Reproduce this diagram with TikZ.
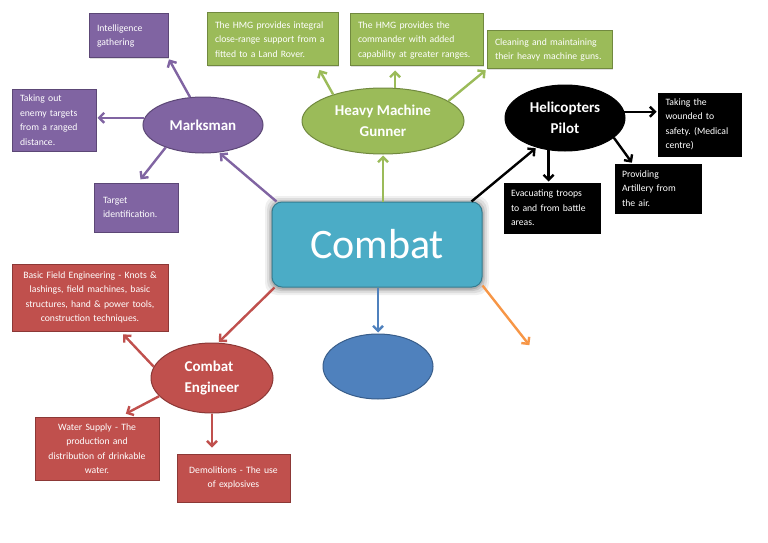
\documentclass[tikz,border=0pt]{standalone}
\usepackage{fontspec}
\setmainfont{Carlito}
\usetikzlibrary{arrows.meta,shapes.geometric,calc,shadows}
\definecolor{cteal}{HTML}{4BACC6}
\definecolor{ctealb}{HTML}{357D91}
\definecolor{cblue}{HTML}{4F81BD}
\definecolor{cblueb}{HTML}{385D8A}
\definecolor{cpurp}{HTML}{8064A2}
\definecolor{cpurpb}{HTML}{5C4776}
\definecolor{cgreen}{HTML}{9BBB59}
\definecolor{cgreenb}{HTML}{71893F}
\definecolor{cred}{HTML}{C0504D}
\definecolor{credb}{HTML}{8C3836}
\definecolor{corange}{HTML}{F79646}
\tikzset{
  conn/.style={line width=2.4pt, -{Straight Barb[length=5pt,width=10pt]}, shorten >=1pt},
  leaf/.style={draw, line width=1pt, text=white, inner sep=5pt,
    font=\frenchspacing\fontsize{9.7}{14.5}\selectfont, align=left,
    drop shadow={opacity=0.25, shadow xshift=1.2pt, shadow yshift=-1.2pt}},
  hub/.style={ellipse, draw, line width=1pt, inner sep=0pt, text=white,
    font=\bfseries\fontsize{15}{21}\selectfont, align=center},
  pleaf/.style={leaf, fill=cpurp, draw=cpurpb},
  gleaf/.style={leaf, fill=cgreen, draw=cgreenb},
  kleaf/.style={leaf, fill=black, draw=black},
  rleaf/.style={leaf, fill=cred, draw=credb, align=center},
}
\begin{document}
\begin{tikzpicture}[x=1pt,y=-1pt]
\useasboundingbox[fill=white] (0,0) rectangle (768,543);

% central box with glow
\foreach \g/\o in {7/0.06,5/0.08,3/0.10,1.5/0.12}{
  \fill[black, opacity=\o, rounded corners=12pt] (272-\g,202-\g+1) rectangle (482+\g,287+\g+1);
}
\node[draw=ctealb, fill=cteal, line width=1pt, rounded corners=10pt,
  minimum width=210pt, minimum height=85pt, text=white,
  font=\fontsize{42}{42}\selectfont] (combat) at (377,244.5) {Combat};

% hubs
\node[hub, fill=cpurp, draw=cpurpb, minimum width=120pt, minimum height=56pt] (mark) at (203,125) {Marksman};
\node[hub, fill=cgreen, draw=cgreenb, minimum width=162pt, minimum height=66pt] (hmg) at (383,121) {Heavy Machine\\Gunner};
\node[hub, fill=black, draw=black, minimum width=120pt, minimum height=66pt] (pilot) at (565,118) {Helicopters\\Pilot};
\node[hub, fill=cred, draw=credb, minimum width=122pt, minimum height=70pt, align=left] (eng) at (212,378) {Combat\\Engineer};
\node[hub, fill=cblue, draw=cblueb, minimum width=110pt, minimum height=65pt] (blue) at (378,366.5) {};
\coordinate (orangeend) at (530,346);

% purple leaves
\node[pleaf, minimum width=79pt, minimum height=44pt, text width=63pt] (intel) at (128.5,36) {Intelligence\\gathering};
\node[pleaf, minimum width=84pt, minimum height=62pt, text width=68pt] (takeout) at (54,120) {Taking out\\enemy targets\\from a ranged\\distance.};
\node[pleaf, minimum width=84pt, minimum height=49pt, text width=66pt] (target) at (136,207.5) {Target\\identification.};

% green leaves
\node[gleaf, minimum width=131pt, minimum height=53pt, text width=115pt] (hmg1) at (272.5,39.5) {The HMG provides integral\\close-range support from a\\fitted to a Land Rover.};
\node[gleaf, minimum width=133pt, minimum height=52pt, text width=117pt] (hmg2) at (416.5,40) {The HMG provides the\\commander with added\\capability at greater ranges.};
\node[gleaf, minimum width=125pt, minimum height=38pt, text width=109pt] (hmg3) at (549.5,50) {Cleaning and maintaining\\their heavy machine guns.};

% black leaves
\node[kleaf, minimum width=83pt, minimum height=63pt, text width=68pt] (wounded) at (699.5,124.5) {Taking the\\wounded to\\safety. (Medical\\centre)};
\node[kleaf, minimum width=86pt, minimum height=49pt, text width=72pt] (artillery) at (658,188.5) {Providing\\Artillery from\\the air.};
\node[kleaf, minimum width=96pt, minimum height=50pt, text width=82pt] (evac) at (552,208) {Evacuating troops\\to and from battle\\areas.};

% red leaves
\node[rleaf, minimum width=156pt, minimum height=67pt, text width=146pt] (basic) at (90,297.5) {Basic Field Engineering - Knots \&\\lashings, field machines, basic\\structures, hand \& power tools,\\construction techniques.};
\node[rleaf, minimum width=124pt, minimum height=63pt, text width=114pt] (water) at (97,448.5) {Water Supply - The\\production and\\distribution of drinkable\\water.};
\node[rleaf, minimum width=113pt, minimum height=48pt, text width=103pt] (demol) at (233.5,478) {Demolitions - The use\\of explosives};

% connectors from combat
\draw[conn, cpurp] ($(combat.north west)+(5,0)$) -- (mark.300);
\draw[conn, cgreen] (combat.north -| hmg.south) -- (hmg.south);
\draw[conn, black] ($(combat.north east)+(-11,0)$) -- (pilot.226);
\draw[conn, cred] ($(combat.south west)+(3,0)$) -- (eng.80);
\draw[conn, cblue] (combat.south -| blue.north) -- (blue.north);
\draw[conn, corange] ($(combat.south east)+(0,-2)$) -- (orangeend);

% marksman
\draw[conn, cpurp] (mark.115) -- (intel.south east);
\draw[conn, cpurp] (mark.173) -- (mark.173 -| takeout.east);
\draw[conn, cpurp, shorten >=4pt] (mark.211) -- ($(target.north)+(2,0)$);

% HMG
\draw[conn, cgreen, shorten >=4pt] (hmg.152) -- ($(hmg1.south east)+(-21,0)$);
\draw[conn, cgreen, shorten >=4pt] (hmg.70) -- (hmg.70 |- hmg2.south);
\draw[conn, cgreen] (hmg.17) -- (hmg3.south west);

% pilot
\draw[conn, black] (pilot.6) -- (pilot.6 -| wounded.west);
\draw[conn, black] (pilot.338) -- ($(artillery.north west)+(18,0)$);
\draw[conn, black] (pilot.243) -- (pilot.243 |- evac.north);

% engineer
\draw[conn, cred, shorten >=4pt] (eng.169) -- ($(basic.south east)+(-48,0)$);
\draw[conn, cred, shorten >=6pt] (eng.199) -- ($(water.north east)+(-39,0)$);
\draw[conn, cred, shorten >=6pt] (eng.south) -- (eng.south |- demol.north);
\end{tikzpicture}
\end{document}
